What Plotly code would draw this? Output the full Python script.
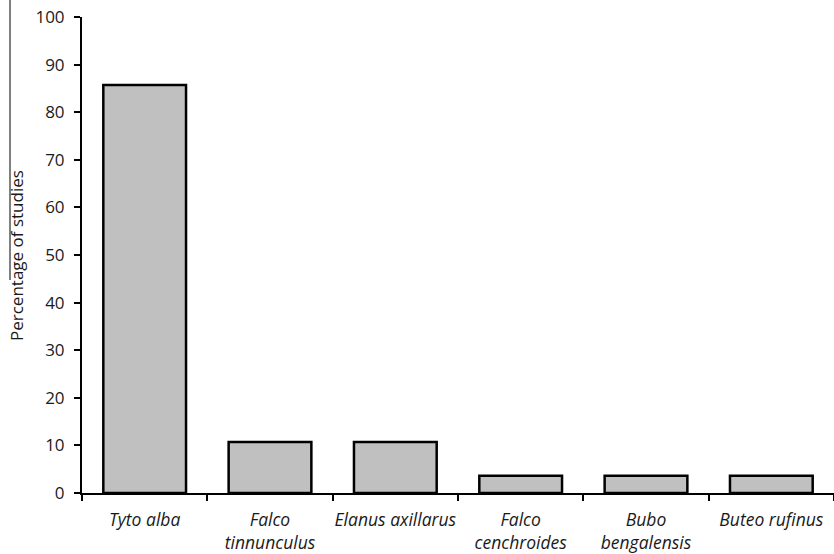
import plotly.graph_objects as go

species = ["Tyto alba", "Falco<br>tinnunculus", "Elanus axillarus",
           "Falco<br>cenchroides", "Bubo<br>bengalensis", "Buteo rufinus"]
percent = [85.7, 10.7, 10.7, 3.6, 3.6, 3.6]
y_ticks = [0, 10, 20, 30, 40, 50, 60, 70, 80, 90, 100]

FONT = "Open Sans"
TXT = "#1a1a1a"
PLOT_W = 834 - 82
PLOT_H = 554 - 17 - 61

fig = go.Figure(go.Bar(
    x=species, y=percent,
    marker=dict(color="#c0c0c0", line=dict(color="black", width=2.5)),
    width=0.66,
))

fig.update_layout(
    width=834, height=554,
    margin=dict(l=82, r=0, t=17, b=61, autoexpand=False),
    paper_bgcolor="white", plot_bgcolor="white",
    showlegend=False,
    font=dict(family=FONT, color=TXT, size=17),
)

fig.update_xaxes(
    automargin=False, tickangle=0,
    showline=True, linecolor="black", linewidth=2,
    ticks="outside", tickson="boundaries", ticklen=6, tickwidth=2, tickcolor="black",
    tickfont=dict(family=FONT, size=17.5, style="italic", color=TXT),
    ticklabelstandoff=10,
    showgrid=False, zeroline=False,
)

fig.update_yaxes(
    automargin=False,
    range=[0, 100], tickvals=y_ticks,
    showline=True, linecolor="black", linewidth=2,
    ticks="outside", ticklen=6, tickwidth=2, tickcolor="black",
    tickfont=dict(family=FONT, size=17, color=TXT),
    ticklabelstandoff=6,
    showgrid=False, zeroline=False,
)

# y-axis title as annotation
fig.add_annotation(
    text="Percentage of studies", textangle=-90,
    xref="paper", yref="paper", x=(16 - 82) / PLOT_W, y=(493 - 256) / PLOT_H,
    xanchor="center", yanchor="middle", showarrow=False,
    font=dict(family=FONT, size=17, color=TXT),
)

# thin decorative vertical line at far left (present in the source image)
fig.add_shape(type="line", xref="paper", yref="paper",
              x0=(10 - 82) / PLOT_W, x1=(10 - 82) / PLOT_W,
              y0=(493 - 0) / PLOT_H, y1=(493 - 280) / PLOT_H,
              line=dict(color="black", width=1))

fig.write_html("out.html", config={"displayModeBar": False})

# remove default body margin so the figure sits at the page's top-left corner
with open("out.html", encoding="utf-8") as f:
    html = f.read()
html = html.replace("<head>", "<head><style>html,body{margin:0;padding:0;overflow:hidden;}</style>", 1)
with open("out.html", "w", encoding="utf-8") as f:
    f.write(html)
